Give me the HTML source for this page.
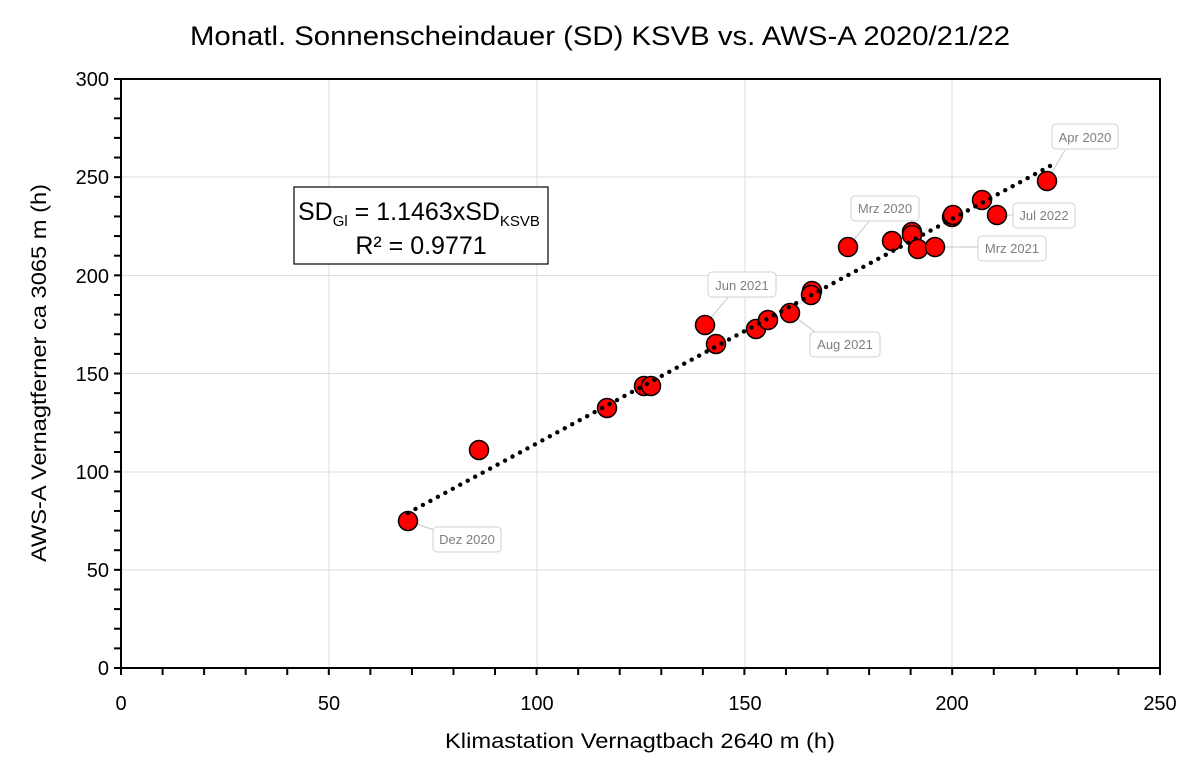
<!DOCTYPE html>
<html><head><meta charset="utf-8"><style>
body{margin:0;background:#fff;}
svg{display:block;font-family:"Liberation Sans",Calibri,sans-serif;}
</style></head><body>
<svg width="1200" height="775" viewBox="0 0 1200 775">
<rect width="1200" height="775" fill="#fff"/>
<text x="600" y="45" font-size="27" text-anchor="middle" fill="#000" textLength="820" lengthAdjust="spacingAndGlyphs">Monatl. Sonnenscheindauer (SD) KSVB vs. AWS-A 2020/21/22</text>
<g stroke="#dedede" stroke-width="1">
<line x1="329" y1="79" x2="329" y2="668"/><line x1="537" y1="79" x2="537" y2="668"/>
<line x1="745" y1="79" x2="745" y2="668"/><line x1="952" y1="79" x2="952" y2="668"/>
<line x1="121" y1="177" x2="1160" y2="177"/><line x1="121" y1="275.5" x2="1160" y2="275.5"/>
<line x1="121" y1="373.5" x2="1160" y2="373.5"/><line x1="121" y1="472" x2="1160" y2="472"/>
<line x1="121" y1="570" x2="1160" y2="570"/>
</g>
<rect x="121" y="79" width="1039" height="589" fill="none" stroke="#000" stroke-width="2"/>
<g stroke="#000" stroke-width="2" id="ticks"></g>
<g font-size="20" fill="#000" text-anchor="end">
<text x="109" y="86">300</text><text x="109" y="184">250</text><text x="109" y="283">200</text>
<text x="109" y="381">150</text><text x="109" y="479">100</text><text x="109" y="577">50</text><text x="109" y="675">0</text>
</g>
<g font-size="20" fill="#000" text-anchor="middle">
<text x="121" y="710">0</text><text x="329" y="710">50</text><text x="537" y="710">100</text>
<text x="745" y="710">150</text><text x="952" y="710">200</text><text x="1160" y="710">250</text>
</g>
<text x="640" y="748" font-size="21" text-anchor="middle" textLength="390" lengthAdjust="spacingAndGlyphs">Klimastation Vernagtbach 2640 m (h)</text>
<text transform="translate(46,373) rotate(-90)" font-size="21" text-anchor="middle" textLength="378" lengthAdjust="spacingAndGlyphs">AWS-A Vernagtferner ca 3065 m (h)</text>
<rect x="294" y="187" width="254" height="77" fill="#fff" stroke="#000" stroke-width="1.2"/>
<text x="298" y="220" font-size="25">SD<tspan font-size="15" dy="6">Gl</tspan><tspan dy="-6"> = 1.1463xSD</tspan><tspan font-size="15" dy="6">KSVB</tspan></text>
<text x="421" y="254" font-size="25" text-anchor="middle">R² = 0.9771</text>
<g stroke="#d0d0d0" stroke-width="1.2">
<line x1="408" y1="521" x2="440" y2="532"/><line x1="705" y1="325" x2="730" y2="295"/>
<line x1="790" y1="313" x2="815" y2="332"/><line x1="848" y1="247" x2="870" y2="220"/>
<line x1="935" y1="247" x2="980" y2="247"/><line x1="997" y1="215" x2="1015" y2="215"/>
<line x1="1047" y1="181" x2="1065" y2="150"/>
</g>
<g id="pts" fill="#ff0000" stroke="#000" stroke-width="1.5"></g>
<g id="trend" fill="#000"></g>
<g font-size="13" fill="#7f7f7f" text-anchor="middle">
<rect x="433" y="527" width="68" height="25" rx="4" fill="#fff" stroke="#d0d0d0"/><text x="467" y="544">Dez 2020</text>
<rect x="708" y="272" width="68" height="25" rx="4" fill="#fff" stroke="#d0d0d0"/><text x="742" y="290">Jun 2021</text>
<rect x="810" y="332" width="70" height="25" rx="4" fill="#fff" stroke="#d0d0d0"/><text x="845" y="349">Aug 2021</text>
<rect x="851" y="196" width="68" height="25" rx="4" fill="#fff" stroke="#d0d0d0"/><text x="885" y="213">Mrz 2020</text>
<rect x="978" y="236" width="68" height="25" rx="4" fill="#fff" stroke="#d0d0d0"/><text x="1012" y="253">Mrz 2021</text>
<rect x="1013" y="203" width="62" height="25" rx="4" fill="#fff" stroke="#d0d0d0"/><text x="1044" y="220">Jul 2022</text>
<rect x="1052" y="124" width="66" height="25" rx="4" fill="#fff" stroke="#d0d0d0"/><text x="1085" y="142">Apr 2020</text>
</g>
<script>
var ns="http://www.w3.org/2000/svg",t=document.getElementById("ticks");
function ln(a,b,c,d){var l=document.createElementNS(ns,"line");l.setAttribute("x1",a);l.setAttribute("y1",b);l.setAttribute("x2",c);l.setAttribute("y2",d);t.appendChild(l);}
for(var i=0;i<=30;i++){var y=668-i*589/30;ln(114,y,121,y);}
for(var i=0;i<=25;i++){var x=121+i*1039/25;ln(x,668,x,675);}
var P=[[408,521],[479,450],[607,408],[644,386],[651,386],[705,325],[716,344],[756,329],[768,320],[790,313],[812,291],[811,295],[848,247],[892,241],[912,232],[912,235],[918,249],[935,247],[952,217],[953,215],[982,200],[997,215],[1047,181]];
var g=document.getElementById("pts");
P.forEach(function(p){var c=document.createElementNS(ns,"circle");c.setAttribute("cx",p[0]);c.setAttribute("cy",p[1]);c.setAttribute("r",9.5);g.appendChild(c);});
var tr=document.getElementById("trend");
var x0=408,y0=513,x1=1050,y1=166,L=Math.hypot(x1-x0,y1-y0),n=Math.round(L/8.5);
for(var k=0;k<=n;k++){var c=document.createElementNS(ns,"circle");c.setAttribute("cx",x0+(x1-x0)*k/n);c.setAttribute("cy",y0+(y1-y0)*k/n);c.setAttribute("r",2.2);tr.appendChild(c);}
</script>
</svg>
</body></html>
